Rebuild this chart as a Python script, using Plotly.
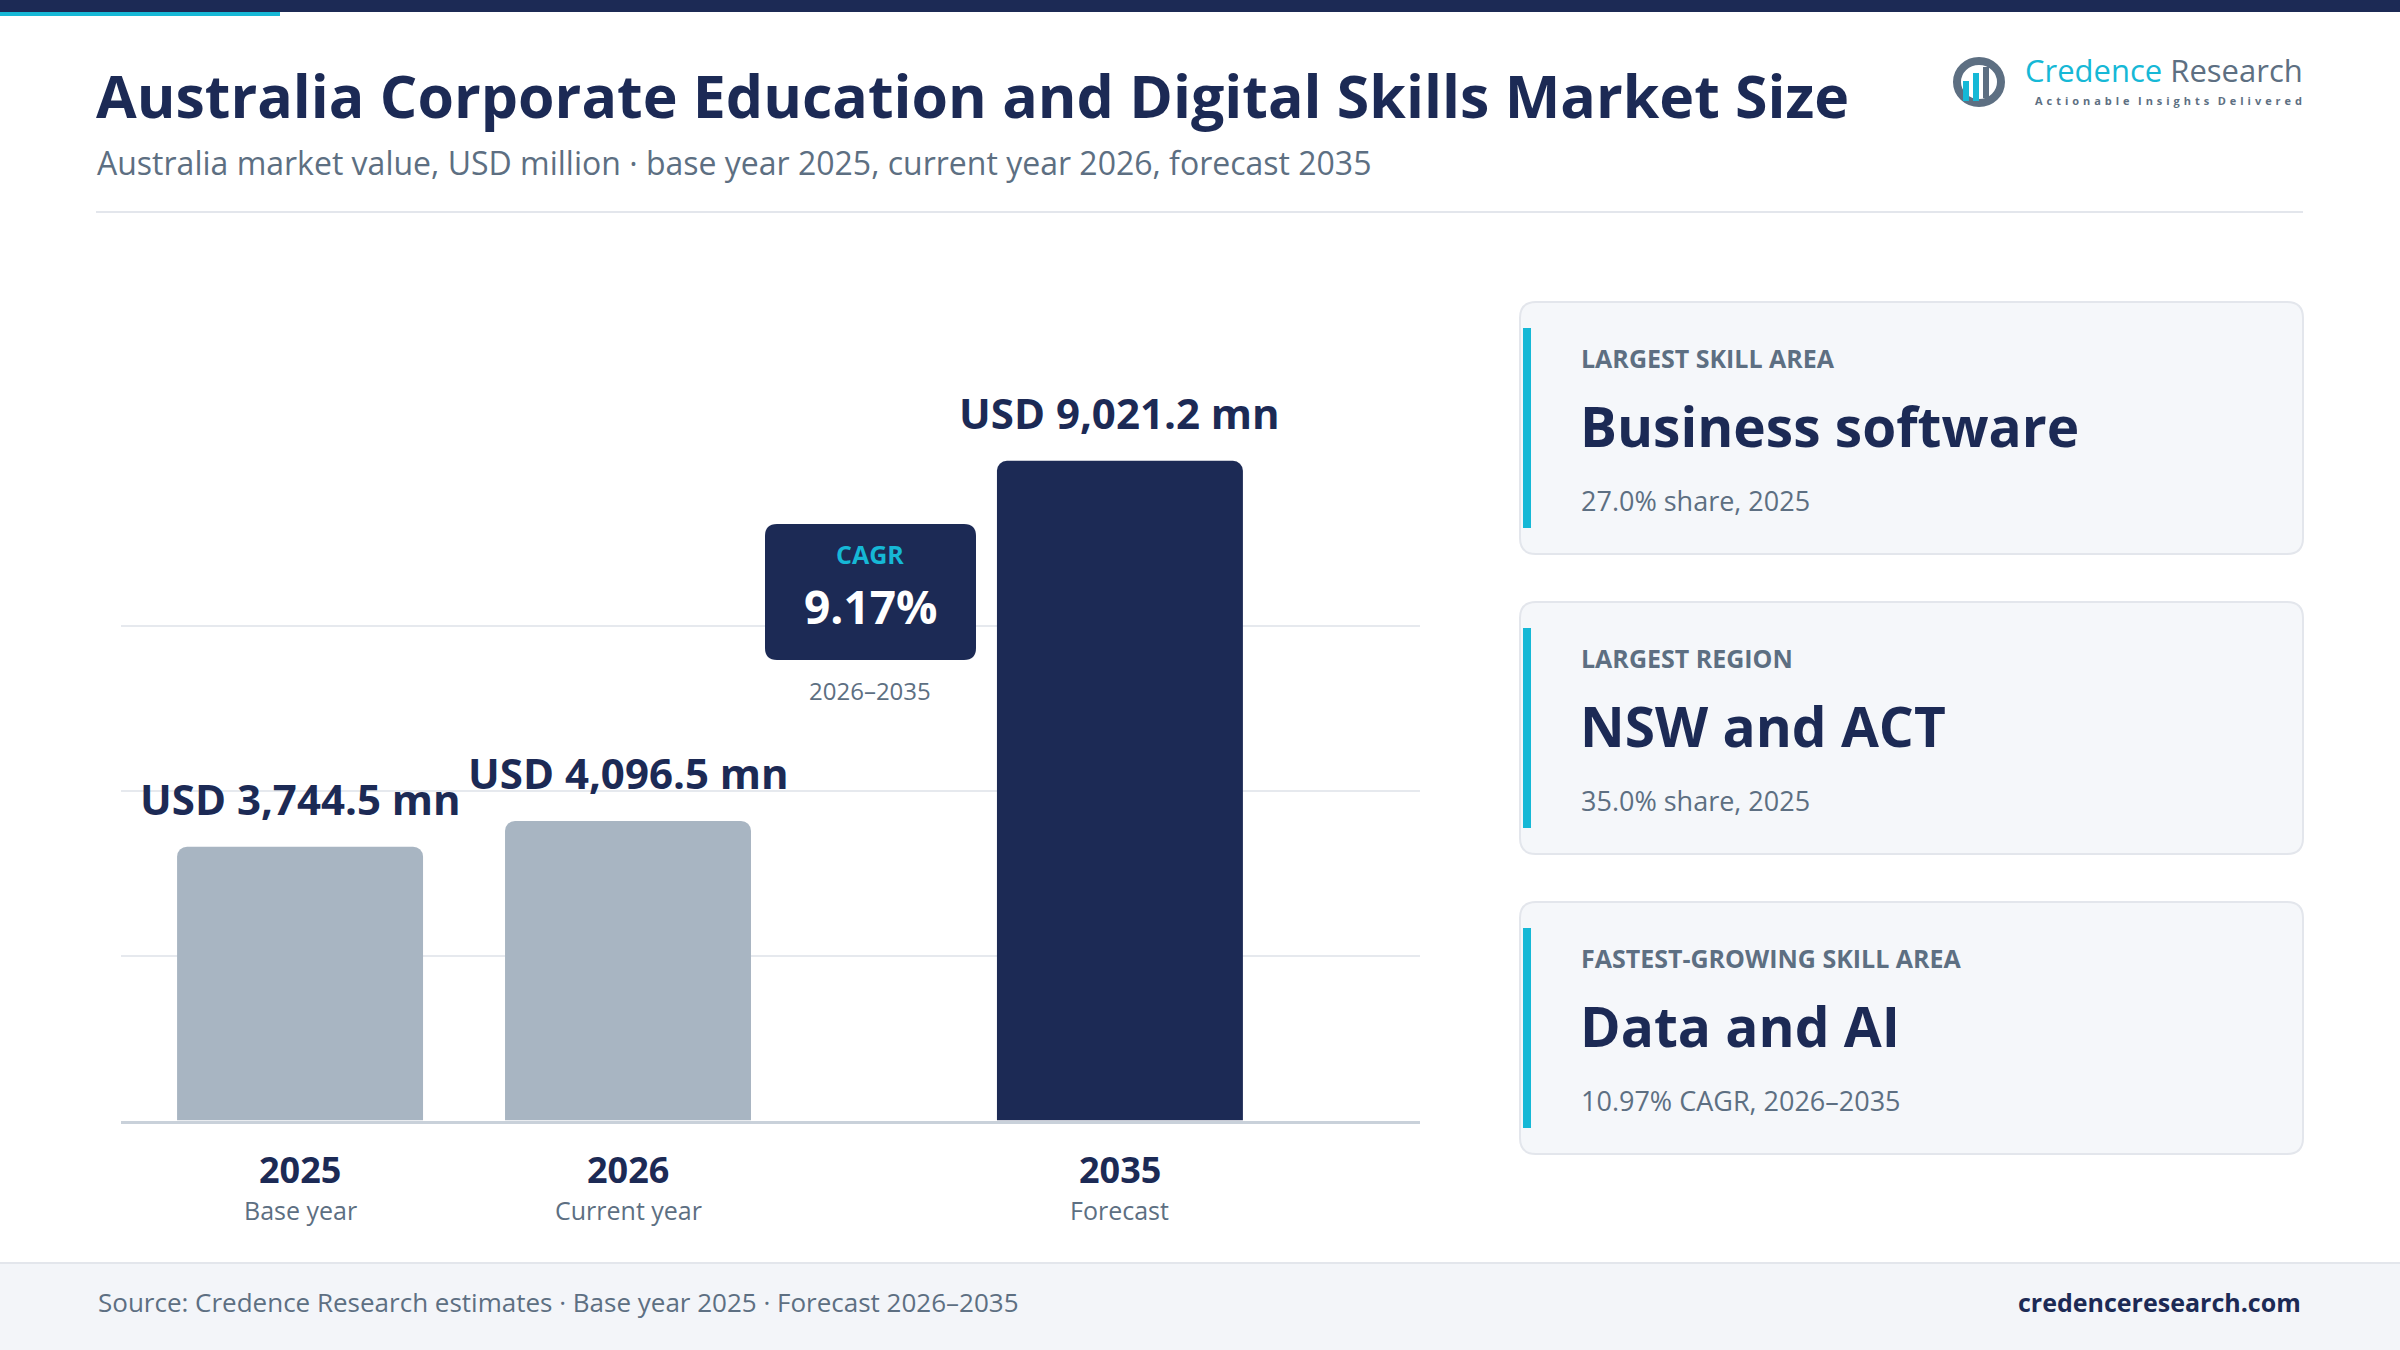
import plotly.graph_objects as go

# ---------------- data ----------------
years = ["2025", "2026", "2035"]
year_notes = ["Base year", "Current year", "Forecast"]
values = [3744.5, 4096.5, 9021.2]
value_labels = ["USD 3,744.5 mn", "USD 4,096.5 mn", "USD 9,021.2 mn"]
cagr_value = "9.17%"
cagr_period = "2026–2035"
card_labels = ["LARGEST SKILL AREA", "LARGEST REGION", "FASTEST-GROWING SKILL AREA"]
card_values = ["Business software", "NSW and ACT", "Data and AI"]
card_subs = ["27.0% share, 2025", "35.0% share, 2025", "10.97% CAGR, 2026–2035"]
title = "Australia Corporate Education and Digital Skills Market Size"
subtitle = "Australia market value, USD million · base year 2025, current year 2026, forecast 2035"
source = "Source: Credence Research estimates · Base year 2025 · Forecast 2026–2035"
site = "credenceresearch.com"

# ---------------- style ----------------
W, H = 2400, 1350
NAVY = "#1c2a55"
CYAN = "#16b8d6"
GREY_BAR = "#a8b5c2"
SLATE = "#5d6f82"
FONT = "Open Sans"
bar_colors = [GREY_BAR, GREY_BAR, NAVY]
slot = [0, 1, 2.5]  # layout slots (gap before forecast)

def px(x):
    return x / W

def py(y):
    return 1 - y / H

def rrect_path(x0, y0, x1, y1, r):
    X = lambda v: px(v)
    Y = lambda v: py(v)
    return (f"M {X(x0 + r)} {Y(y0)} L {X(x1 - r)} {Y(y0)} Q {X(x1)} {Y(y0)} {X(x1)} {Y(y0 + r)} "
            f"L {X(x1)} {Y(y1 - r)} Q {X(x1)} {Y(y1)} {X(x1 - r)} {Y(y1)} "
            f"L {X(x0 + r)} {Y(y1)} Q {X(x0)} {Y(y1)} {X(x0)} {Y(y1 - r)} "
            f"L {X(x0)} {Y(y0 + r)} Q {X(x0)} {Y(y0)} {X(x0 + r)} {Y(y0)} Z")

fig = go.Figure()

fig.add_trace(go.Bar(
    x=slot, y=values, width=0.75,
    marker=dict(color=bar_colors, line=dict(width=0)),
    hoverinfo="skip", showlegend=False,
))

vmax = max(values)
base_px = 1120.5
top_val = vmax * 1.25
unit_px = (1120.5 - 460.7) / vmax
top_px = base_px - top_val * unit_px

fig.update_layout(
    width=W, height=H,
    margin=dict(l=0, r=0, t=0, b=0),
    paper_bgcolor="white", plot_bgcolor="rgba(0,0,0,0)",
    barcornerradius=10,
    font=dict(family=FONT, color=NAVY),
    xaxis=dict(domain=[px(121), px(1420)], range=[-0.546, 3.415],
               showgrid=False, zeroline=False, showticklabels=False,
               showline=True, linecolor="#c9d1da", linewidth=3, fixedrange=True),
    yaxis=dict(domain=[py(base_px), py(top_px)], range=[0, top_val],
               tickvals=[vmax * 0.25, vmax * 0.5, vmax * 0.75],
               showticklabels=False, gridcolor="#e6e9ee", gridwidth=2,
               zeroline=False, showline=False, fixedrange=True),
)

shapes = []
# top band
shapes.append(dict(type="rect", xref="paper", yref="paper", x0=0, x1=1, y0=py(12), y1=1,
                   fillcolor=NAVY, line=dict(width=0), layer="above"))
shapes.append(dict(type="rect", xref="paper", yref="paper", x0=0, x1=px(280), y0=py(16), y1=py(12),
                   fillcolor=CYAN, line=dict(width=0), layer="above"))
# separator
shapes.append(dict(type="line", xref="paper", yref="paper", x0=px(96), x1=px(2303), y0=py(212), y1=py(212),
                   line=dict(color="#e3e6ec", width=2)))
# footer
shapes.append(dict(type="rect", xref="paper", yref="paper", x0=0, x1=1, y0=0, y1=py(1263),
                   fillcolor="#f3f5f9", line=dict(width=0), layer="below"))
shapes.append(dict(type="line", xref="paper", yref="paper", x0=0, x1=1, y0=py(1263), y1=py(1263),
                   line=dict(color="#e3e6ec", width=2)))
# CAGR box
shapes.append(dict(type="path", xref="paper", yref="paper", path=rrect_path(765, 524, 976, 660, 12),
                   fillcolor=NAVY, line=dict(width=0), layer="above"))
# cards
for i in range(3):
    off = 300 * i
    shapes.append(dict(type="path", xref="paper", yref="paper",
                       path=rrect_path(1520, 302 + off, 2303, 554 + off, 16),
                       fillcolor="#f5f7fa", line=dict(color="#e3e6ec", width=2), layer="below"))
    shapes.append(dict(type="rect", xref="paper", yref="paper", x0=px(1523), x1=px(1531),
                       y0=py(528 + off), y1=py(328 + off),
                       fillcolor=CYAN, line=dict(width=0), layer="above"))
# logo icon
shapes.append(dict(type="circle", xref="paper", yref="paper", x0=px(1957), x1=px(2001),
                   y0=py(103), y1=py(61), line=dict(color=SLATE, width=8), fillcolor="rgba(0,0,0,0)"))
shapes.append(dict(type="rect", xref="paper", yref="paper", x0=px(1963), x1=px(1969),
                   y0=py(101), y1=py(81), fillcolor=CYAN, line=dict(width=0)))
shapes.append(dict(type="rect", xref="paper", yref="paper", x0=px(1973), x1=px(1979),
                   y0=py(101), y1=py(73), fillcolor=CYAN, line=dict(width=0)))
shapes.append(dict(type="rect", xref="paper", yref="paper", x0=px(1983), x1=px(1989),
                   y0=py(98), y1=py(67), fillcolor=SLATE, line=dict(width=0)))
fig.update_layout(shapes=shapes)

def note(x, y, text, size, color, bold=False, anchor="left", family=FONT, pad=1):
    t = f"<b>{text}</b>" if bold else text
    fig.add_annotation(xref="paper", yref="paper", x=px(x), y=py(y), text=t, showarrow=False,
                       xanchor=anchor, yanchor="middle", borderpad=pad,
                       font=dict(family=family, size=size, color=color))

# header
note(94, 95, title, 59, NAVY, bold=True)
note(95, 163, subtitle, 32, SLATE)
fig.add_annotation(xref="paper", yref="paper", x=px(2304), y=py(70),
                   text=f"<span style='color:{CYAN}'>Credence</span> Research", showarrow=False,
                   xanchor="right", yanchor="middle", borderpad=0,
                   font=dict(family=FONT, size=31, color=SLATE))
tagline = "\u00a0\u00a0\u00a0".join(" \u200a".join(w) for w in ["Actionable", "Insights", "Delivered"])
note(2303, 101, tagline, 11, SLATE, bold=True, anchor="right", pad=0)

# bar value labels and x labels
for i in range(len(values)):
    fig.add_annotation(xref="x", yref="y", x=slot[i], y=values[i], text=f"<b>{value_labels[i]}</b>",
                       showarrow=False, yanchor="middle", yshift=48,
                       font=dict(family=FONT, size=42, color=NAVY))
    fig.add_annotation(xref="x", yref="y", x=slot[i], y=0, text=f"<b>{years[i]}</b>",
                       showarrow=False, yanchor="middle", yshift=-49,
                       font=dict(family=FONT, size=36, color=NAVY))
    fig.add_annotation(xref="x", yref="y", x=slot[i], y=0, text=year_notes[i],
                       showarrow=False, yanchor="middle", yshift=-89,
                       font=dict(family=FONT, size=25, color=SLATE))

# CAGR
note(870, 554, "CAGR", 25, CYAN, bold=True, anchor="center")
note(870, 606, cagr_value, 46, "white", bold=True, anchor="center")
note(870, 690, cagr_period, 24, SLATE, anchor="center")

# cards
for i in range(3):
    off = 300 * i
    note(1579, 358 + off, card_labels[i], 25, SLATE, bold=True)
    note(1578, 425 + off, card_values[i], 55, NAVY, bold=True)
    note(1579, 500 + off, card_subs[i], 27, SLATE)

# footer
note(96, 1302, source, 26, SLATE)
note(2303, 1302, site, 25, NAVY, bold=True, anchor="right")

fig.write_html("out.html")
